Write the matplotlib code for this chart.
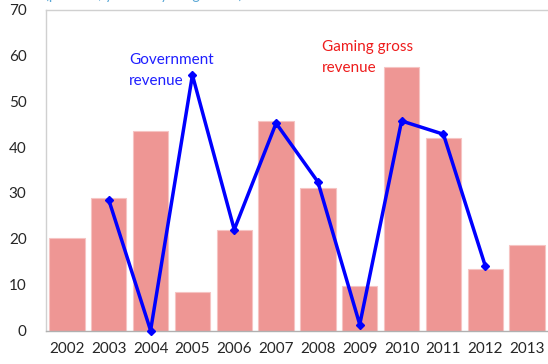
import matplotlib
matplotlib.use("Agg")
import matplotlib.pyplot as plt

years = ["2002", "2003", "2004", "2005", "2006", "2007", "2008", "2009", "2010", "2011", "2012", "2013"]
gaming = [20.2, 28.9, 43.5, 8.3, 22.0, 45.7, 31.0, 9.8, 57.4, 41.9, 13.5, 18.7]
gov_years = ["2003", "2004", "2005", "2006", "2007", "2008", "2009", "2010", "2011", "2012"]
government = [28.5, 0.0, 55.7, 22.0, 45.2, 32.4, 1.3, 45.7, 42.8, 14.1]
yticks = [0, 10, 20, 30, 40, 50, 60, 70]

plt.rcParams['font.family'] = ['Lato', 'DejaVu Sans']

fig = plt.figure(figsize=(5.48, 3.64), dpi=100)
ax = fig.add_axes([46/548, 33.5/364, 502/548, 321/364])

x = list(range(len(years)))
ax.bar(x, gaming, width=0.845, color="#EE9694", edgecolor="#F6C4C3", linewidth=0.8, zorder=2)
gx = [years.index(y) for y in gov_years]
ax.plot(gx, government, color="#0000FF", linewidth=2.5, marker="D", markersize=4.5, zorder=3, clip_on=False)

ax.set_xlim(-0.5, len(years) - 0.5)
ax.set_ylim(0, 70)
ax.set_yticks(yticks)
ax.set_yticklabels([str(v) for v in yticks])
ax.set_xticks(x)
ax.set_xticklabels(years)
ax.tick_params(axis='both', length=0, labelsize=11, labelcolor="#262626")
ax.tick_params(axis='y', pad=14)
ax.tick_params(axis='x', pad=8)
for s in ["left", "bottom", "top"]:
    ax.spines[s].set_color("#D0D0D0")
    ax.spines[s].set_linewidth(1.0)
ax.spines["bottom"].set_color("#B0B0B0")
ax.spines["right"].set_visible(False)

ax.text(129/548, 1 - 53/364, "Government\nrevenue", transform=fig.transFigure, color="#1F1FFF",
        fontsize=11, va="top", ha="left", linespacing=1.65)
ax.text(322/548, 1 - 40/364, "Gaming gross\nrevenue", transform=fig.transFigure, color="#EE1C1C",
        fontsize=11, va="top", ha="left", linespacing=1.65)
fig.text(45/548, 1 + 1.5/364, "(percent, year-on-year growth)", color="#5BA8D6", fontsize=10.5,
         va="baseline", ha="left")

fig.savefig("out.png", dpi=100)
